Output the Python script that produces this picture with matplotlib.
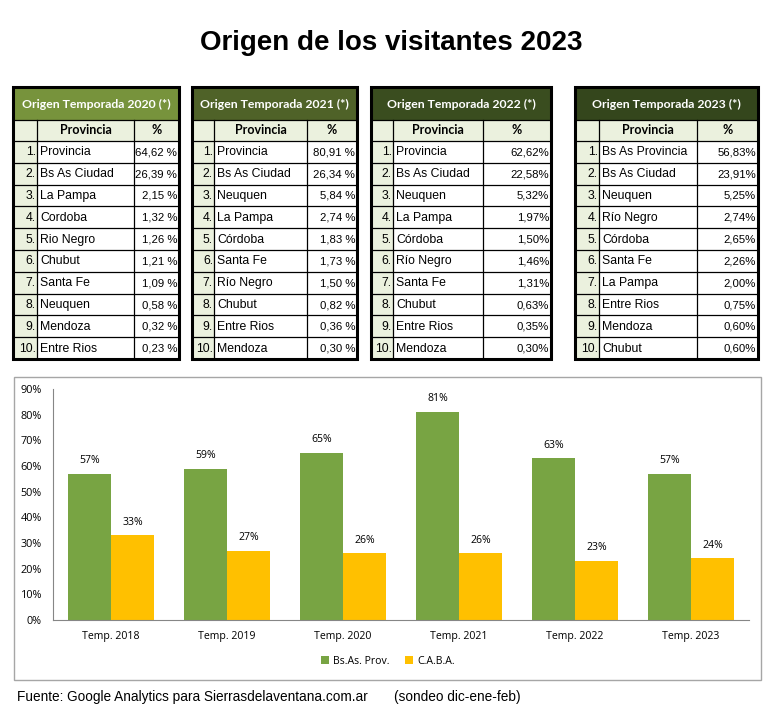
import matplotlib
matplotlib.use("Agg")
import matplotlib.pyplot as plt
from matplotlib.patches import Rectangle

W, H = 783, 723

# ---------------- data ----------------
title = "Origen de los visitantes 2023"
table_titles = ["Origen Temporada 2020 (*)", "Origen Temporada 2021 (*)",
                "Origen Temporada 2022 (*)", "Origen Temporada 2023 (*)"]
prov_2020 = ["Provincia", "Bs As Ciudad", "La Pampa", "Cordoba", "Rio Negro",
             "Chubut", "Santa Fe", "Neuquen", "Mendoza", "Entre Rios"]
pct_2020 = ["64,62 %", "26,39 %", "2,15 %", "1,32 %", "1,26 %",
            "1,21 %", "1,09 %", "0,58 %", "0,32 %", "0,23 %"]
prov_2021 = ["Provincia", "Bs As Ciudad", "Neuquen", "La Pampa", "Córdoba",
             "Santa Fe", "Río Negro", "Chubut", "Entre Rios", "Mendoza"]
pct_2021 = ["80,91 %", "26,34 %", "5,84 %", "2,74 %", "1,83 %",
            "1,73 %", "1,50 %", "0,82 %", "0,36 %", "0,30 %"]
prov_2022 = ["Provincia", "Bs As Ciudad", "Neuquen", "La Pampa", "Córdoba",
             "Río Negro", "Santa Fe", "Chubut", "Entre Rios", "Mendoza"]
pct_2022 = ["62,62%", "22,58%", "5,32%", "1,97%", "1,50%",
            "1,46%", "1,31%", "0,63%", "0,35%", "0,30%"]
prov_2023 = ["Bs As Provincia", "Bs As Ciudad", "Neuquen", "Río Negro", "Córdoba",
             "Santa Fe", "La Pampa", "Entre Rios", "Mendoza", "Chubut"]
pct_2023 = ["56,83%", "23,91%", "5,25%", "2,74%", "2,65%",
            "2,26%", "2,00%", "0,75%", "0,60%", "0,60%"]

seasons = ["Temp. 2018", "Temp. 2019", "Temp. 2020", "Temp. 2021", "Temp. 2022", "Temp. 2023"]
bsas_prov = [57, 59, 65, 81, 63, 57]
caba = [33, 27, 26, 26, 23, 24]
series_names = ["Bs.As. Prov.", "C.A.B.A."]
footer = "Fuente: Google Analytics para Sierrasdelaventana.com.ar       (sondeo dic-ene-feb)"

# ---------------- figure ----------------
fig = plt.figure(figsize=(W / 100, H / 100), dpi=100)
bg = fig.add_axes([0, 0, 1, 1])
bg.set_xlim(0, W)
bg.set_ylim(H, 0)
bg.axis("off")

bg.text(391, 43, title, ha="center", va="center", fontsize=20, fontweight="bold",
        family="Liberation Sans")

# tables
tables = [
    (prov_2020, pct_2020, (13, 37, 134, 179), "#77933C"),
    (prov_2021, pct_2021, (192, 214, 307, 357), "#4F6228"),
    (prov_2022, pct_2022, (371, 393, 483, 551), "#3A4D1F"),
    (prov_2023, pct_2023, (575, 599, 697, 758), "#34461C"),
]
light = "#EBF1DE"
top, hdr_bot, col_bot, bot = 87, 120, 141, 359
row_h = (bot - col_bot) / 10

for (provs, pcts, (x0, x1, x2, x3), hcol), ttl in zip(tables, table_titles):
    bg.add_patch(Rectangle((x0, top), x3 - x0, hdr_bot - top, facecolor=hcol, edgecolor="none"))
    bg.text((x0 + x3) / 2, (top + hdr_bot) / 2 + 1, ttl, ha="center", va="center",
            color="white", fontsize=8.8, fontweight="bold", family="Lato")
    # column header row
    bg.add_patch(Rectangle((x0, hdr_bot), x3 - x0, col_bot - hdr_bot, facecolor=light, edgecolor="none"))
    bg.text((x1 + x2) / 2, (hdr_bot + col_bot) / 2, "Provincia", ha="center", va="center",
            fontsize=9, fontweight="bold", family="Lato")
    bg.text((x2 + x3) / 2, (hdr_bot + col_bot) / 2, "%", ha="center", va="center",
            fontsize=9, fontweight="bold", family="Lato")
    # index column
    bg.add_patch(Rectangle((x0, col_bot), x1 - x0, bot - col_bot, facecolor=light, edgecolor="none"))
    for i, (p, v) in enumerate(zip(provs, pcts)):
        yc = col_bot + row_h * (i + 0.5) + 0.5
        bg.text(x1 - 1, yc, f"{i + 1}.", ha="right", va="center", fontsize=8.8, family="Liberation Sans")
        bg.text(x1 + 3, yc, p, ha="left", va="center", fontsize=8.8, family="Liberation Sans")
        bg.text(x3 - 2, yc, v, ha="right", va="center", fontsize=8.2, family="Liberation Sans")
    # grid lines
    for k in range(11):
        y = col_bot + row_h * k
        bg.plot([x0, x3], [y, y], color="black", lw=0.9)
    bg.plot([x0, x3], [hdr_bot, hdr_bot], color="black", lw=0.9)
    for xx in (x1, x2):
        bg.plot([xx, xx], [hdr_bot, bot], color="black", lw=0.9)
    bg.add_patch(Rectangle((x0, top), x3 - x0, bot - top, facecolor="none", edgecolor="black", lw=2.2))

# chart frame
bg.add_patch(Rectangle((14, 377), 761 - 14, 680 - 377, facecolor="none", edgecolor="#A6A6A6", lw=1))

# bar chart
ax_l, ax_r, ax_t, ax_b = 53, 749, 389, 620
ax = fig.add_axes([ax_l / W, 1 - ax_b / H, (ax_r - ax_l) / W, (ax_b - ax_t) / H])
xs = list(range(len(seasons)))
bw = 0.37
green, yellow = "#78A443", "#FFC000"
b1 = ax.bar([x - bw / 2 for x in xs], bsas_prov, bw, color=green, label=series_names[0])
b2 = ax.bar([x + bw / 2 for x in xs], caba, bw, color=yellow, label=series_names[1])
for bars, vals in ((b1, bsas_prov), (b2, caba)):
    for b, v in zip(bars, vals):
        ax.text(b.get_x() + b.get_width() / 2, v + 3, f"{v}%", ha="center", va="bottom",
                fontsize=7.6, family="Open Sans")
ax.set_xlim(-0.5, len(seasons) - 0.5)
ax.set_ylim(0, 90)
ax.set_yticks(range(0, 91, 10))
ax.set_yticklabels([f"{t}%" for t in range(0, 91, 10)], fontsize=7.8, family="Open Sans")
ax.set_xticks(xs)
ax.set_xticklabels(seasons, fontsize=7.6, family="Open Sans")
ax.tick_params(axis="x", length=0, pad=8)
ax.tick_params(axis="y", length=0, pad=8)
for s in ("top", "right"):
    ax.spines[s].set_visible(False)
for s in ("left", "bottom"):
    ax.spines[s].set_color("#868686")
    ax.spines[s].set_linewidth(0.8)
ax.patch.set_alpha(0)
leg = ax.legend(loc="center", bbox_to_anchor=((388 - ax_l) / (ax_r - ax_l), -(661 - ax_b) / (ax_b - ax_t)),
                ncol=2, frameon=False, prop={"family": "Open Sans", "size": 7.6},
                handlelength=0.7, handleheight=0.7, handletextpad=0.4, columnspacing=1.5)

bg.text(17, 697, footer, ha="left", va="center", fontsize=9.8, family="Liberation Sans")

fig.savefig("out.png", dpi=100)
